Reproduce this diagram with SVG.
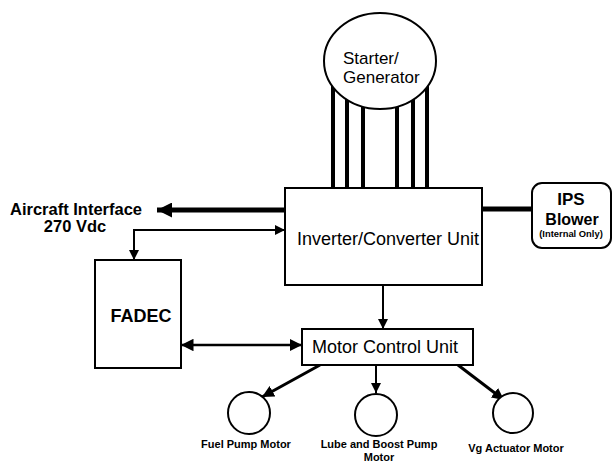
<svg xmlns="http://www.w3.org/2000/svg" width="613" height="464" viewBox="0 0 613 464">
<style>
.box{fill:#fff;stroke:#000;stroke-width:2}
.t{font-family:"Liberation Sans",Arial,sans-serif;fill:#000}
.r{font-size:18px}
.b{font-weight:bold}
.ln{stroke:#000;fill:none}
</style>
<defs>
<marker id="ah" viewBox="0 0 10 10" refX="10" refY="5" markerWidth="5" markerHeight="5" orient="auto-start-reverse" markerUnits="strokeWidth"><path d="M0,0 L10,5 L0,10 Z" fill="#000"/></marker>
<marker id="ahs" viewBox="0 0 10 10" refX="10" refY="5" markerWidth="4" markerHeight="4" orient="auto-start-reverse" markerUnits="strokeWidth"><path d="M0,0 L10,5 L0,10 Z" fill="#000"/></marker>
<marker id="ahb" viewBox="0 0 10 10" refX="10" refY="5" markerWidth="5.5" markerHeight="3" orient="auto" markerUnits="strokeWidth"><path d="M0,0 L10,5 L0,10 Z" fill="#000"/></marker>
</defs>
<g id="connectors">
<g stroke="#000" stroke-width="4">
<line x1="333" y1="70" x2="333" y2="188"/>
<line x1="347" y1="70" x2="347" y2="188"/>
<line x1="363" y1="70" x2="363" y2="188"/>
<line x1="397" y1="70" x2="397" y2="188"/>
<line x1="413" y1="70" x2="413" y2="188"/>
<line x1="427" y1="70" x2="427" y2="188"/>
</g>
<line class="ln" x1="285" y1="210" x2="157" y2="210" stroke-width="5" marker-end="url(#ahb)"/>
<line class="ln" x1="482" y1="209" x2="532" y2="209" stroke-width="5"/>
<polyline class="ln" points="134,260 134,230 285,230" stroke-width="2" marker-start="url(#ah)" marker-end="url(#ah)"/>
<line class="ln" x1="181" y1="345" x2="302" y2="345" stroke-width="2.5" marker-start="url(#ah)" marker-end="url(#ah)"/>
<line class="ln" x1="383" y1="285" x2="383" y2="329" stroke-width="2" marker-end="url(#ah)"/>
<line class="ln" x1="320" y1="365" x2="262" y2="397" stroke-width="3" marker-end="url(#ahs)"/>
<line class="ln" x1="376" y1="365" x2="376" y2="393" stroke-width="2" marker-end="url(#ah)"/>
<line class="ln" x1="458" y1="365" x2="504" y2="400" stroke-width="3" marker-end="url(#ahs)"/>
</g>
<g id="starter-generator">
<ellipse cx="380" cy="61" rx="56" ry="48" class="box"/>
<text class="t" font-size="17" x="343" y="64">Starter/</text>
<text class="t" font-size="17" x="343" y="83">Generator</text>
</g>
<g id="inverter">
<rect x="285" y="188" width="197" height="97" class="box"/>
<text class="t r" x="297" y="245">Inverter/Converter Unit</text>
</g>
<g id="aircraft-interface">
<text class="t b" font-size="16.5" x="76" y="215" text-anchor="middle">Aircraft Interface</text>
<text class="t b" font-size="16.5" x="75" y="232" text-anchor="middle">270 Vdc</text>
</g>
<g id="ips-blower">
<rect x="532" y="183" width="79" height="65" rx="10" class="box"/>
<text class="t b" font-size="17" x="571" y="205" text-anchor="middle">IPS</text>
<text class="t b" font-size="16" x="572" y="225" text-anchor="middle">Blower</text>
<text class="t b" font-size="9.4" x="571" y="237" text-anchor="middle">(Internal Only)</text>
</g>
<g id="fadec">
<rect x="95" y="260" width="86" height="108" class="box"/>
<text class="t b" font-size="18" x="141" y="322" text-anchor="middle">FADEC</text>
</g>
<g id="mcu">
<rect x="302" y="329" width="171" height="36" class="box"/>
<text class="t r" x="312" y="353">Motor Control Unit</text>
</g>
<g id="fuel-pump-motor">
<circle cx="249" cy="413" r="21" class="box"/>
<text class="t b" font-size="11" x="246" y="448" text-anchor="middle">Fuel Pump Motor</text>
</g>
<g id="lube-boost-pump-motor">
<circle cx="376" cy="415" r="21" class="box"/>
<text class="t b" font-size="11" x="379" y="448" text-anchor="middle">Lube and Boost Pump</text>
<text class="t b" font-size="11" x="379" y="461" text-anchor="middle">Motor</text>
</g>
<g id="vg-actuator-motor">
<circle cx="513" cy="413" r="20" class="box"/>
<text class="t b" font-size="11" x="516" y="452" text-anchor="middle">Vg Actuator Motor</text>
</g>
</svg>
